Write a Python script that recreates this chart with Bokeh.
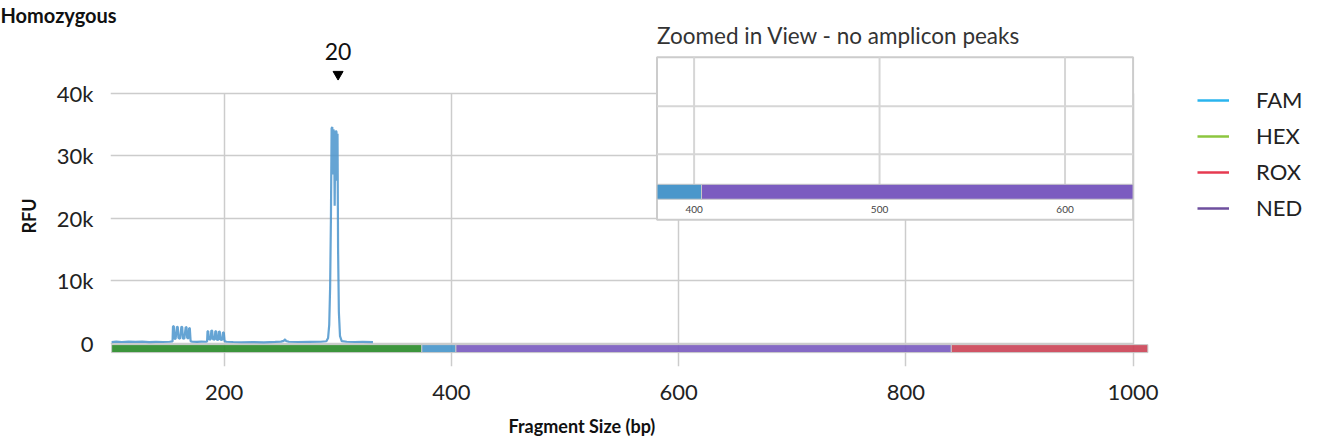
import numpy as np
from bokeh.plotting import figure
from bokeh.models import Range1d, FixedTicker, NumeralTickFormatter, Legend, LegendItem, Title
from bokeh.embed import file_html
from bokeh.resources import INLINE
from bokeh.core.properties import value

# ---------------- data ----------------
title_text = "Homozygous"
inset_title = "Zoomed in View  - no amplicon peaks"
x_label = "Fragment Size (bp)"
y_label = "RFU"

x_ticks = [200, 400, 600, 800, 1000]
y_ticks = [0, 10000, 20000, 30000, 40000]
inset_ticks = [400, 500, 600]

dye_names = ["FAM", "HEX", "ROX", "NED"]
dye_legend_colors = ["#2ab4ee", "#8cc63f", "#e63a50", "#6e4f9e"]

# coloured dye bar below the trace
seg_dye = ["HEX", "FAM", "NED", "ROX"]
seg_start = [101, 374, 404, 840]
seg_end = [374, 404, 840, 1013]
seg_color = ["#2b8c2b", "#4a97cb", "#7b5cc0", "#cc4558"]

# FAM trace (size in bp, RFU)
fam_size = [101, 105, 110, 116, 122, 128, 134, 140, 146, 152,
            154.6, 155.0, 155.7, 156.3, 157.3, 158.5, 159.2, 159.8, 161.2, 162.4,
            163.1, 163.7, 165.0, 166.2, 166.9, 167.5, 168.6, 169.2, 169.8, 170.5,
            172, 176, 180, 184,
            185.0, 185.4, 186.0, 186.5, 188.0, 188.8, 189.5, 190.1, 191.6, 192.3,
            193.0, 193.6, 194.9, 195.5, 196.2, 196.8, 198.3, 199.0, 199.7, 200.4,
            202, 208, 215, 225, 235, 245, 250, 252.5, 253.6, 254.5, 257, 265, 275, 285,
            290, 291.5, 292.5, 293.3, 294.0, 294.6, 295.2, 295.7, 296.2, 296.8,
            297.3, 297.8, 298.4, 298.9, 299.4, 299.8, 300.3, 301.0, 302.0, 303.5,
            308, 315, 322, 331]
fam_rfu = [250, 320, 260, 330, 270, 310, 250, 290, 260, 300,
           350, 2750, 2800, 800, 750, 2700, 2650, 900, 800, 2700,
           2650, 850, 800, 2650, 2600, 900, 850, 2500, 2450, 400,
           300, 270, 320, 300,
           350, 1950, 2000, 700, 650, 2100, 2050, 700, 650, 2000,
           1950, 650, 600, 1950, 1900, 650, 600, 1800, 1750, 400,
           300, 260, 220, 240, 200, 280, 330, 450, 700, 420, 300, 260, 280, 300,
           380, 900, 3000, 9000, 20000, 34400, 34600, 27000, 34200, 33500,
           22000, 33000, 34000, 33800, 26000, 33500, 15000, 5000, 1200, 400,
           300, 260, 290, 250]

peak_size = [300.3]
peak_label = ["20"]

# ---------------- layout constants ----------------
FONT = "Lato"
X_RANGE = (100, 1162.3)
Y_RANGE = (-3650, 50630)
BAR_TOP, BAR_BOTTOM = -160, -1430
INSET_X_SRC = (380, 636.7)
INSET_X_TGT = (581, 1000)
INSET_Y_TGT = (19760, 45710)

p = figure(width=1317, height=447, x_range=Range1d(*X_RANGE), y_range=Range1d(*Y_RANGE),
           output_backend="svg", toolbar_location=None,
           min_border_left=110, min_border_right=0, min_border_top=25, min_border_bottom=80)
p.outline_line_color = None

# chart title (top-left)
p.title.text = title_text
p.title.align = "left"
p.title.offset = -110
p.title.standoff = 0
p.title.text_font = FONT
p.title.text_font_style = "bold"
p.title.text_font_size = "20px"
p.title.text_color = "#111111"

p.xaxis.ticker = FixedTicker(ticks=x_ticks)
p.yaxis.ticker = FixedTicker(ticks=y_ticks)
p.yaxis.formatter = NumeralTickFormatter(format="0a")
for ax in (p.xaxis[0], p.yaxis[0]):
    ax.axis_line_color = None
    ax.major_tick_line_color = None
    ax.minor_tick_line_color = None
    ax.major_label_text_font = FONT
    ax.major_label_text_font_size = "22px"
    ax.major_label_text_color = "#222222"
p.xaxis.major_label_standoff = 12
p.yaxis.major_label_standoff = 11

for g in (p.xgrid[0], p.ygrid[0]):
    g.grid_line_color = "#cccccc"
    g.grid_line_width = 1.5
p.xgrid[0].cross_bounds = (Y_RANGE[0], y_ticks[-1])
p.ygrid[0].cross_bounds = (X_RANGE[0], x_ticks[-1])

# axis titles (placed as titles so that they can sit off-centre like the reference)
p.add_layout(Title(text=x_label, align="left", offset=398, standoff=21, text_font=FONT,
                   text_font_style="bold", text_font_size="18px", text_color="#111111"), "below")
p.add_layout(Title(text=y_label, align="left", offset=133, standoff=28, text_font=FONT,
                   text_font_style="bold", text_font_size="18px", text_color="#111111"), "left")

# trace
p.line(fam_size, fam_rfu, line_color="#4a94cc", line_width=2.2, line_alpha=0.85)

# dye bar
p.quad(left=seg_start, right=seg_end, bottom=BAR_BOTTOM, top=BAR_TOP,
       fill_color=seg_color, fill_alpha=0.92, line_color="#c8c8c8", line_width=1)

# peak call marker
p.scatter(peak_size, [43000], marker="inverted_triangle", size=10, color="black")
p.text(peak_size, [46700], text=peak_label, text_align="center", text_baseline="middle",
       text_font=value(FONT), text_font_size="23px", text_color="#111111")

# inset (zoomed view)
ins = p.subplot(x_source=Range1d(*INSET_X_SRC), y_source=Range1d(0, 1),
                x_target=Range1d(*INSET_X_TGT), y_target=Range1d(*INSET_Y_TGT))
ins.quad(left=[INSET_X_SRC[0]], right=[INSET_X_SRC[1]], bottom=[0], top=[1],
         fill_color="white", line_color="#cccccc", line_width=2)
ins.segment(x0=inset_ticks, x1=inset_ticks, y0=0.219, y1=1, line_color="#d6d6d6", line_width=2)
ins.segment(x0=INSET_X_SRC[0], x1=INSET_X_SRC[1], y0=[0.403, 0.699], y1=[0.403, 0.699],
            line_color="#d6d6d6", line_width=2)
cs = np.clip(seg_start, *INSET_X_SRC)
ce = np.clip(seg_end, *INSET_X_SRC)
keep = ce > cs
ins.quad(left=cs[keep], right=ce[keep], bottom=0.127, top=0.219,
         fill_color=[c for c, k in zip(seg_color, keep) if k], line_color="#c8c8c8", line_width=1)
ins.text(x=inset_ticks, y=[0.061] * len(inset_ticks), text=[str(t) for t in inset_ticks],
         text_align="center", text_baseline="middle", text_font=value(FONT),
         text_font_size="10px", text_color="#444444")
p.text(x=[INSET_X_TGT[0]], y=[49206], text=[inset_title], text_align="left", text_baseline="middle",
       text_font=value(FONT), text_font_size="22.5px", text_color="#333333")

# legend (legend-only renderers, nothing drawn in the plot area)
items = []
for name, col in zip(dye_names, dye_legend_colors):
    r = p.line(x=[np.nan, np.nan], y=[np.nan, np.nan], line_color=col, line_width=2.5)
    items.append(LegendItem(label=name, renderers=[r]))
legend = Legend(items=items, location=(1087, 145), border_line_color=None,
                background_fill_alpha=0, glyph_width=32, glyph_height=26, label_height=26,
                label_standoff=27, label_text_font=FONT, label_text_font_size="22px",
                label_text_color="#222222", spacing=9, padding=0, margin=0)
p.add_layout(legend, "center")

open("out.html", "w").write(file_html(p, INLINE))
